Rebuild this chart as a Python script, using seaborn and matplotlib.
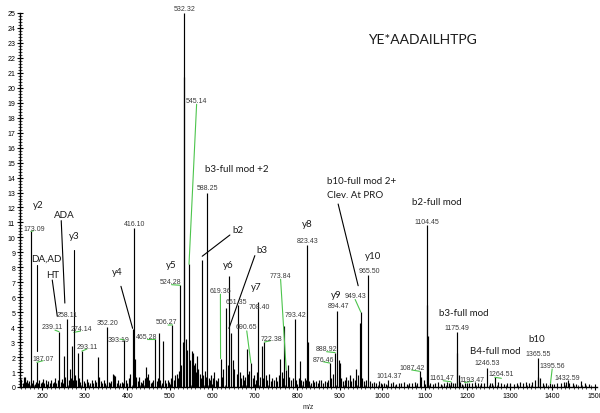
import matplotlib
matplotlib.use("Agg")
import matplotlib.pyplot as plt
import seaborn as sns
import pandas as pd
from matplotlib.ticker import MultipleLocator

# ---- labelled fragment peaks: m/z and relative abundance ----
labelled_mz = [173.09, 187.07, 239.11, 258.11, 274.14, 293.11, 352.20, 393.19,
               416.10, 465.28, 506.27, 524.28, 532.32, 545.14, 588.25, 619.36,
               661.35, 690.65, 708.40, 722.38, 773.84, 793.42, 823.43, 876.46,
               888.92, 894.47, 949.43, 965.50, 1014.37, 1087.42, 1104.45,
               1161.47, 1175.49, 1193.47, 1246.53, 1264.51, 1365.55, 1395.56,
               1432.59]
labelled_int = [10.4, 1.65, 3.7, 4.55, 3.65, 2.4, 4.0, 3.15,
                10.6, 3.2, 4.15, 6.8, 25.0, 8.2, 13.0, 1.9,
                5.5, 1.6, 5.7, 3.0, 1.15, 4.55, 9.5, 1.6,
                2.3, 5.1, 5.0, 7.5, 0.45, 1.05, 10.8,
                0.35, 3.65, 0.3, 1.3, 0.65, 1.95, 0.25,
                0.35]
# where each m/z value label sits
label_x = [180.9, 202.3, 224.0, 257.6, 291.6, 305.0, 352.6, 378.7,
           416.0, 445.4, 493.2, 502.6, 534.0, 563.0, 589.0, 619.0,
           656.0, 680.6, 710.7, 738.2, 760.6, 795.4, 824.3, 861.7,
           867.8, 897.0, 936.0, 969.9, 1015.8, 1070.5, 1105.8,
           1141.0, 1176.4, 1211.7, 1247.0, 1280.3, 1367.3, 1400.5,
           1434.4]
label_y = [10.6, 1.92, 4.03, 4.83, 3.88, 2.72, 4.28, 3.16,
           10.94, 3.36, 4.39, 7.04, 25.3, 19.14, 13.35, 6.48,
           5.73, 4.03, 5.39, 3.25, 7.47, 4.83, 9.78, 1.83,
           2.6, 5.44, 6.1, 7.82, 0.76, 1.32, 11.08,
           0.65, 3.99, 0.53, 1.65, 0.91, 2.27, 1.42,
           0.65]

# green leaders from a labelled peak to its value label
green_mz = [173.09, 187.07, 239.11, 274.14, 293.11, 393.19, 465.28, 506.27,
            524.28, 545.14, 619.36, 690.65, 722.38, 773.84, 876.46, 888.92,
            949.43, 1087.42, 1161.47, 1193.47, 1264.51, 1395.56]
green_end_x = [180, 202, 229.8, 290, 305, 382.6, 445.4, 496,
               504, 563, 619, 681, 737, 760.6, 861, 868.8,
               936, 1068.7, 1143, 1212, 1280, 1399.5]
green_end_y = [10.45, 1.76, 3.8, 3.74, 2.54, 3.2, 3.2, 4.14,
               6.84, 18.9, 6.2, 3.75, 3.1, 7.2, 1.69, 2.36,
               5.85, 1.14, 0.42, 0.38, 0.58, 1.2]

# other resolved peaks without a value label
other_mz = [159, 251.6, 269, 283, 330, 366, 412.5, 418, 428, 443.8, 449,
            475, 484.5, 530, 533.3, 537, 540, 551, 555, 559, 563, 567,
            575.6, 633, 640, 645, 680.6, 716, 759, 769, 778, 806, 824.4,
            897.5, 900, 939, 947, 1092, 1105.5, 1106.5, 1176.5, 1180, 1366.6]
other_int = [0.7, 2.05, 2.75, 2.3, 2.0, 0.87, 3.9, 1.9, 0.65, 1.35, 0.87,
             3.6, 3.1, 3.0, 20.7, 3.2, 2.5, 2.4, 2.3, 1.6, 2.1, 1.2,
             8.5, 5.3, 7.4, 3.6, 2.55, 2.75, 1.9, 4.1, 1.5, 1.75, 3.0,
             1.8, 1.6, 1.2, 4.3, 0.7, 5.5, 3.4, 2.3, 0.8, 0.7]

# baseline chemical noise, low / mid / high mass ranges
noise_low = [(151, 0.55), (154, 0.3), (157, 0.7), (161, 0.35), (163, 0.5), (166, 0.25),
             (169, 0.4), (176, 0.3), (179, 0.45), (182, 0.2), (184, 0.35), (190, 0.3),
             (193, 0.5), (196, 0.25), (199, 0.35), (202, 0.55), (205, 0.3), (208, 0.45),
             (211, 0.2), (214, 0.4), (217, 0.3), (221, 0.5), (224, 0.25), (227, 0.35),
             (230, 0.6), (233, 0.3), (236, 0.45), (243, 0.35), (246, 0.55), (249, 0.3),
             (254, 0.7), (262, 0.5), (265, 1.2), (267, 0.6), (272, 0.45), (277, 0.8),
             (280, 0.5), (286, 0.6), (289, 0.35), (297, 0.4), (300, 0.3), (304, 0.55),
             (308, 0.35), (312, 0.25), (316, 0.45), (319, 0.3), (323, 0.5), (327, 0.35),
             (334, 0.7), (337, 0.4), (341, 0.3), (345, 0.45), (348, 0.3), (356, 0.35),
             (359, 0.25), (362, 0.4), (369, 0.8), (372, 0.75), (375, 0.3), (379, 0.45),
             (383, 0.3), (387, 0.35), (390, 0.25), (397, 0.5), (400, 0.3), (404, 0.6),
             (407, 0.9), (421, 0.7), (425, 0.4), (431, 0.35), (434, 0.3), (438, 0.5),
             (441, 0.6), (446, 0.7), (452, 0.5), (455, 0.3), (458, 0.35), (461, 0.5),
             (469, 0.4), (472, 0.6), (478, 0.5), (481, 0.3), (488, 0.45), (491, 0.3),
             (495, 0.5), (498, 0.35), (502, 0.6), (510, 0.5), (513, 0.8), (516, 0.9),
             (519, 0.6), (521, 1.1), (527, 1.5), (548, 1.8), (557, 1.5), (561, 1.0)]
noise_mid = [(565, 1.3), (570, 0.9), (573, 0.6), (579, 0.8), (582, 1.1), (585, 0.7),
             (592, 0.6), (595, 0.5), (598, 0.8), (602, 0.6), (605, 1.0), (608, 0.5),
             (611, 0.4), (614, 0.6), (623, 0.7), (626, 1.2), (636, 1.5), (649, 1.8),
             (652, 1.2), (657, 0.9), (665, 1.0), (668, 0.6), (672, 0.8), (675, 0.5),
             (678, 0.7), (684, 0.9), (687, 1.1), (695, 0.6), (698, 0.8), (702, 0.5),
             (705, 1.0), (712, 0.7), (719, 0.6), (726, 0.8), (729, 0.5), (733, 0.9),
             (737, 0.4), (741, 0.6), (745, 0.5), (749, 0.7), (752, 0.4), (756, 0.8),
             (763, 1.0), (766, 0.6), (781, 0.7), (785, 0.5), (789, 0.6), (797, 0.5),
             (803, 0.6), (809, 0.5), (813, 0.4), (817, 0.6), (820, 0.5), (828, 0.4),
             (832, 0.3), (836, 0.5), (840, 0.35), (844, 0.4), (848, 0.3), (852, 0.45),
             (856, 0.5), (860, 0.3), (865, 0.4), (869, 0.35), (873, 0.5), (880, 0.6),
             (884, 0.9), (903, 0.6), (907, 0.4), (911, 0.5), (915, 0.7), (919, 0.5),
             (923, 0.8), (927, 0.4), (931, 0.6), (935, 0.5), (943, 0.8), (953, 0.6),
             (957, 0.4), (961, 0.5), (970, 0.4), (975, 0.3), (980, 0.35), (986, 0.3),
             (991, 0.4), (997, 0.25)]
noise_high = [(1003, 0.3), (1009, 0.2), (1020, 0.25), (1026, 0.35), (1032, 0.2), (1038, 0.3),
              (1044, 0.25), (1050, 0.35), (1057, 0.2), (1063, 0.3), (1070, 0.25), (1077, 0.35),
              (1082, 0.3), (1097, 0.45), (1112, 0.3), (1118, 0.2), (1124, 0.25), (1131, 0.35),
              (1138, 0.2), (1145, 0.3), (1152, 0.35), (1157, 0.25), (1166, 0.3), (1170, 0.25),
              (1182, 0.35), (1188, 0.2), (1199, 0.3), (1205, 0.25), (1212, 0.3), (1219, 0.35),
              (1225, 0.3), (1231, 0.25), (1238, 0.3), (1253, 0.25), (1259, 0.3), (1272, 0.35),
              (1279, 0.3), (1286, 0.2), (1293, 0.3), (1301, 0.25), (1309, 0.2), (1316, 0.3),
              (1323, 0.35), (1331, 0.3), (1339, 0.35), (1346, 0.3), (1352, 0.35), (1358, 0.45),
              (1371, 0.6), (1378, 0.3), (1386, 0.25), (1404, 0.2), (1412, 0.25), (1420, 0.3),
              (1428, 0.35), (1436, 0.45), (1440, 0.3), (1448, 0.25), (1456, 0.2), (1468, 0.4),
              (1476, 0.25), (1486, 0.2)]

# fragment ion annotations
ion_text = ["y2", "ADA", "y3", "DA,AD", "HT", "y4", "y5", "b3-full mod +2", "b2",
            "y6", "b3", "y7", "y8", "y9", "y10", "b2-full mod", "b3-full mod",
            "B4-full mod", "b10"]
ion_x = [190.5, 252, 274.5, 210.2, 224, 376.3, 502.1, 657.1, 660.2,
         638.5, 716.6, 703.2, 824.3, 891.1, 977.7, 1127.4, 1190.9,
         1265.3, 1364.1]
ion_y = [12.23, 11.52, 10.16, 8.62, 7.5, 7.73, 8.18, 14.59, 10.51,
         8.18, 9.16, 6.73, 10.96, 6.17, 8.82, 12.41, 4.99,
         2.43, 3.21]
note_lines = ["b10-full mod 2+", "Clev. At PRO"]
note_x = 868.7
note_y = [13.79, 12.9]
peptide = "YE*AADAILHTPG"

# black pointer lines from ion annotations to peaks
black_x0 = [244.5, 274.5, 188.2, 223.4, 385, 641.3, 700, 896]
black_y0 = [11.12, 9.16, 8.18, 7.15, 6.73, 10.16, 8.78, 12.23]
black_x1 = [253, 274.5, 188.2, 235.2, 412.5, 576.2, 639, 943.1]
black_y1 = [5.61, 3.66, 2.43, 4.73, 3.92, 8.74, 3.92, 6.77]

sns.set_theme(style="ticks")
plt.rcParams["font.family"] = ["Liberation Sans", "DejaVu Sans"]

noise = noise_low + noise_mid + noise_high
spectrum = pd.DataFrame({
    "mz": [m for m, _ in noise] + other_mz + labelled_mz,
    "intensity": [h for _, h in noise] + other_int + labelled_int,
})

fig = plt.figure(figsize=(6.0, 4.14), dpi=100)
ax = fig.add_axes([20 / 600, 1 - 388 / 414, 577 / 600, 374 / 414])

ax.vlines(spectrum["mz"], 0, spectrum["intensity"], color="black", lw=0.85)

ax.set_xlim(147.5, 1505)
ax.set_ylim(0, 25)
sns.despine(ax=ax)
for s in ("left", "bottom"):
    ax.spines[s].set_linewidth(1.0)
    ax.spines[s].set_color("black")

ax.xaxis.set_major_locator(MultipleLocator(100))
ax.xaxis.set_minor_locator(MultipleLocator(10))
ax.yaxis.set_major_locator(MultipleLocator(1))
ax.yaxis.set_minor_locator(MultipleLocator(0.2))
ax.tick_params(which="major", direction="inout", length=4, width=0.8,
               labelsize=5, pad=1.5, colors="black")
ax.tick_params(which="minor", direction="inout", length=2.5, width=0.6)
ax.set_xlabel("m/z", fontsize=5, labelpad=3)

# value labels and green leaders
peak_lookup = dict(zip(labelled_mz, labelled_int))
for mz, x, y in zip(labelled_mz, label_x, label_y):
    ax.text(x, y, f"{mz:.2f}", fontsize=5, color="#3a3a3a",
            ha="center", va="center", clip_on=False)
for mz, ex, ey in zip(green_mz, green_end_x, green_end_y):
    ax.plot([mz, ex], [peak_lookup[mz], ey], color="#4cc44c", lw=0.8)

# ion annotations
ion_font = ["Lato", "DejaVu Sans"]
for t, x, y in zip(ion_text, ion_x, ion_y):
    ax.text(x, y, t, fontsize=7, family=ion_font, color="#1a1a1a",
            ha="center", va="center")
for t, y in zip(note_lines, note_y):
    ax.text(note_x, y, t, fontsize=7, family=ion_font, color="#1a1a1a",
            ha="left", va="center")
for x0, y0, x1, y1 in zip(black_x0, black_y0, black_x1, black_y1):
    ax.plot([x0, x1], [y0, y1], color="black", lw=0.8)

ax.text(1094, 23.26, peptide, fontsize=10, family=ion_font, color="#1a1a1a",
        ha="center", va="center")

fig.savefig("out.png", dpi=100)
